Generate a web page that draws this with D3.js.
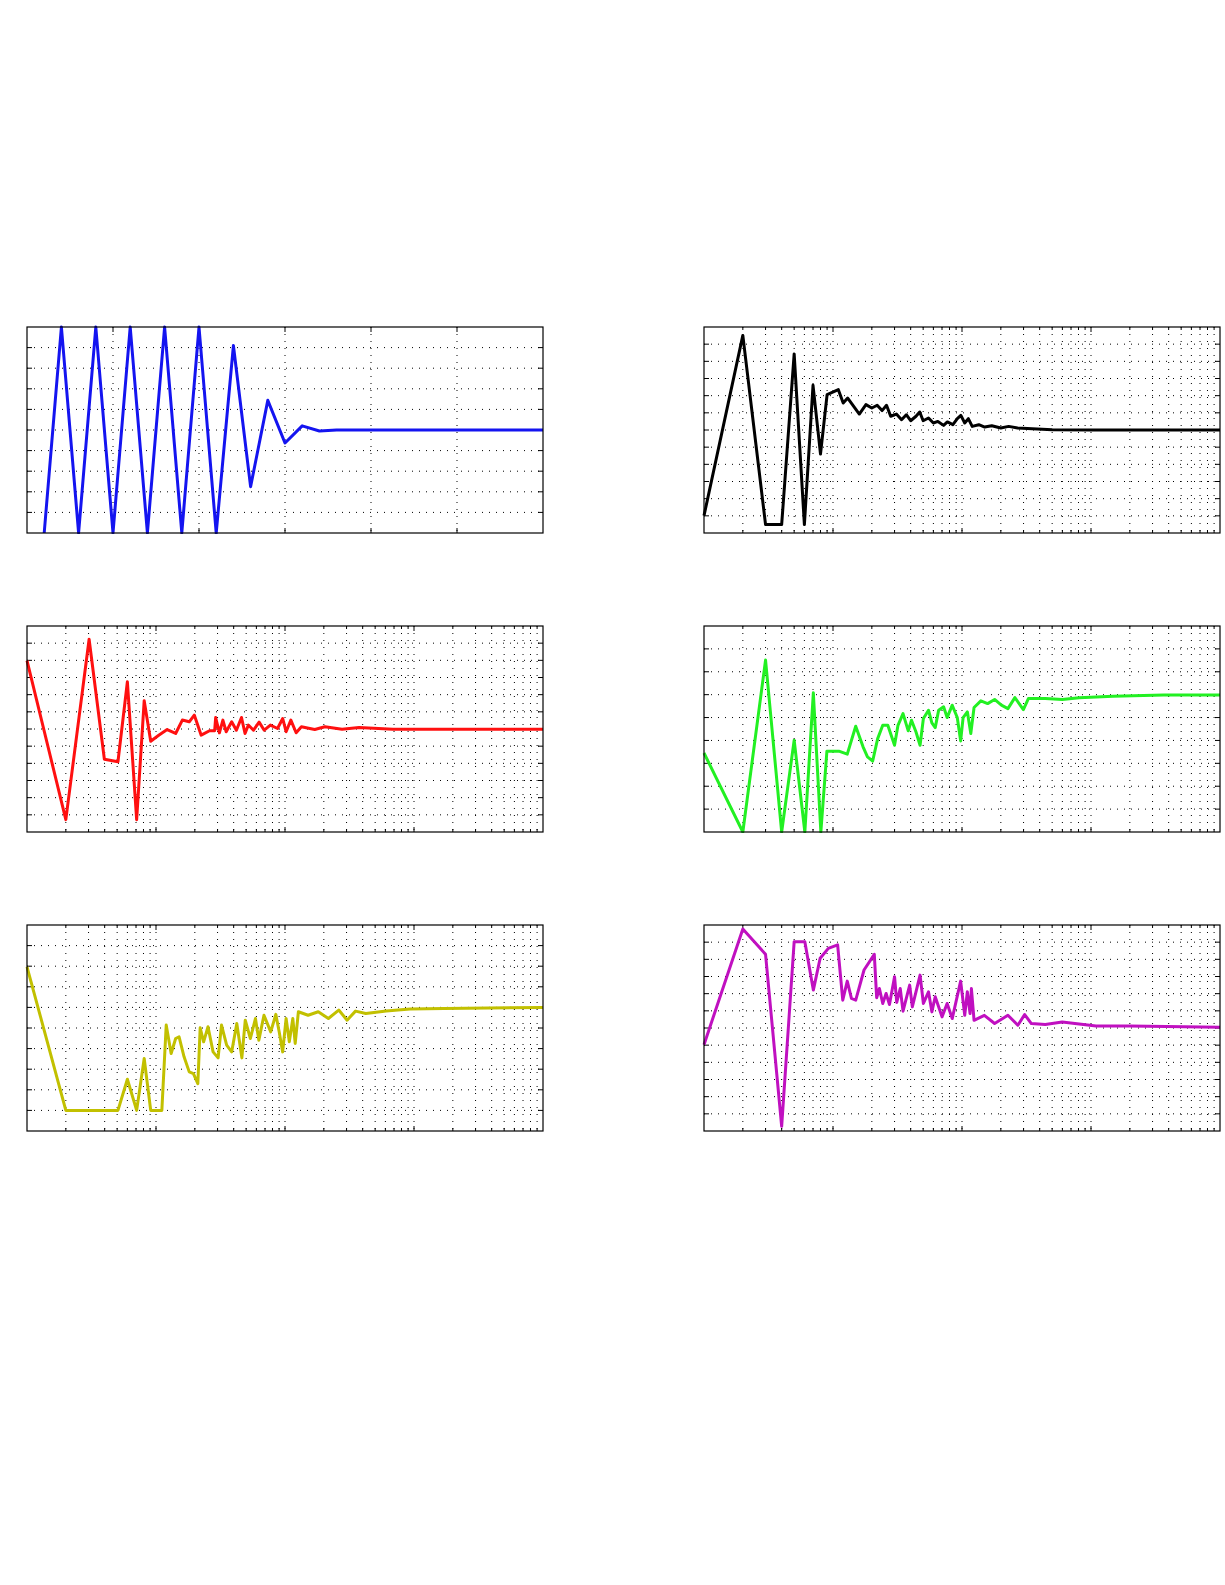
<!DOCTYPE html>
<html><head><meta charset="utf-8">
<script src="https://cdn.jsdelivr.net/npm/d3@7"></script>
<style>body{margin:0;background:#fff}</style></head>
<body><svg id="c" width="1225" height="1585"></svg>
<script>
// ---- data ----
const blueX = d3.range(1, 31);
const blueY = [0,10,0,10,0,10,0,10,0,10,0,9.1,2.25,6.44,4.37,5.2,4.95,5,5,5,5,5,5,5,5,5,5,5,5,5];

const blackX = [1,2,3,4,5,6,7,8,9,11,12,13,16,18,20,22,24,26,28,31,34,37,40,44,47,50,55,60,65,72,77,85,92,98,105,112,120,135,150,170,200,230,270,350,500,1000,10000];
const blackY = [1.01,11.51,0.49,0.49,10.43,0.49,8.6,4.6,8.06,8.35,7.57,7.86,6.93,7.48,7.28,7.44,7.13,7.44,6.8,6.93,6.6,6.89,6.54,6.8,7.05,6.54,6.7,6.41,6.5,6.27,6.47,6.31,6.66,6.85,6.41,6.66,6.21,6.31,6.17,6.25,6.12,6.21,6.12,6.08,6.02,6.0,6.0];

const redX = [1,2,3.03,3.98,5.07,6,7.08,8.1,9.1,10.5,12.2,14.2,16,18.1,19.8,22.4,26,28.5,29,31,33,35,38.6,42,46,49,52,57,63,69,77,87.5,96,102,111,122,134,170,204,277,375,687,10000];
const redY = [9.98,0.72,11.23,4.24,4.09,8.75,0.72,7.65,5.29,5.64,5.97,5.74,6.52,6.42,6.81,5.64,5.9,5.9,6.67,5.78,6.52,5.84,6.42,5.93,6.67,5.74,6.23,5.93,6.4,5.93,6.23,6.03,6.61,5.84,6.52,5.78,6.13,5.97,6.13,5.99,6.09,5.99,5.99];

const greenX = [1,2,3,4,5,6.05,7.04,8.05,8.97,11.1,12.9,15,17.1,18.5,20.3,22.2,24.3,26.6,30,31.9,34.9,38.3,40.6,44,47.3,50.2,55,58.4,62,65.9,72,76.7,84,91.9,97.6,102,110,117,124,140,158,179,202,227,257,299,327,442,598,809,1482,3664,10000];
const greenY = [3.45,0,7.51,0,4.01,0,6.08,0,3.53,3.53,3.40,4.62,3.72,3.28,3.10,4.08,4.66,4.66,3.79,4.66,5.17,4.42,4.88,4.37,3.79,4.96,5.32,4.77,4.56,5.32,5.47,5.0,5.54,5.0,3.98,5.0,5.25,4.30,5.44,5.73,5.61,5.79,5.54,5.39,5.87,5.35,5.83,5.83,5.79,5.87,5.93,5.98,5.98];

const yellowX = [1,2,5.07,6,7.08,8.1,9.1,11.1,12,13.1,14.2,15.1,16.5,18.1,19.5,21.1,22,23.4,25.3,27.7,30.3,32.2,35.3,38.6,42.3,46.3,49.2,53.9,59,62.7,68.7,77.5,84.9,90.2,95.9,102,108,115,120,127,151,181,217,261,303,352,423,609,930,1705,10000];
const yellowY = [7.97,1.0,1.0,2.51,1.0,3.52,1.0,1.0,5.14,3.76,4.49,4.57,3.6,2.87,2.79,2.3,5.01,4.33,5.06,3.84,3.55,5.14,4.17,3.84,5.22,3.55,5.38,4.49,5.46,4.41,5.62,4.81,5.66,4.81,3.84,5.46,4.33,5.46,4.25,5.79,5.62,5.79,5.46,5.87,5.38,5.82,5.7,5.82,5.92,5.95,6.0];

const magentaX = [1,2,3,4,5,6.05,7.04,7.95,9.2,10.86,11.9,12.9,13.9,15,17.4,20.9,21.8,22.9,24.3,25.8,27.4,30,31.2,33.2,34.9,39.3,41.2,47.3,50.2,55,58.4,62,70,76.7,84,97.6,105,110,115.5,118.3,124,149,179,227,271,306,345,442,598,1095,2002,10000];
const magentaY = [5.03,11.77,10.29,0.27,11.03,11.03,8.21,10.06,10.64,10.84,7.62,8.73,7.72,7.62,9.38,10.29,7.76,8.3,7.43,8.01,7.37,8.99,7.49,8.3,6.98,8.5,7.23,9.08,7.43,8.11,6.94,7.82,6.65,7.43,6.55,8.73,6.74,8.11,6.84,8.3,6.45,6.74,6.26,6.74,6.16,6.78,6.26,6.2,6.35,6.12,6.12,6.04];

// ---- layout ----
const W = 516, H = 206;
const panels = [
  {x:27, y:327, log:false, xs:blueX, ys:blueY, yDiv:10, color:"#1414f0"},
  {x:704, y:327, log:true, xs:blackX, ys:blackY, yDiv:12, color:"#000000"},
  {x:27, y:626, log:true, xs:redX, ys:redY, yDiv:12, color:"#ff1010"},
  {x:704, y:626, log:true, xs:greenX, ys:greenY, yDiv:9, color:"#22f022"},
  {x:27, y:925, log:true, xs:yellowX, ys:yellowY, yDiv:10, color:"#c2c000"},
  {x:704, y:925, log:true, xs:magentaX, ys:magentaY, yDiv:12, color:"#c010c0"}
];
const svg = d3.select("#c");
panels.forEach((p, i) => {
  const g = svg.append("g").attr("transform", `translate(${p.x},${p.y})`);
  const x = p.log ? d3.scaleLog().domain([1, 10000]).range([0, W]) : d3.scaleLinear().domain([0, 30]).range([0, W]);
  const y = d3.scaleLinear().domain([0, p.yDiv]).range([H, 0]);
  const yT = d3.range(1, p.yDiv);
  let xMaj, xMin = [];
  if (p.log) {
    xMaj = [10, 100, 1000];
    [1,10,100,1000].forEach(d => { for (let k = 2; k <= 9; k++) xMin.push(d*k); });
  } else xMaj = [5,10,15,20,25];
  const gridX = xMaj.concat(xMin);
  const dash = "1,6";
  g.selectAll(".gx").data(gridX).enter().append("line")
    .attr("x1", d => x(d)).attr("x2", d => x(d)).attr("y1", 0).attr("y2", H)
    .attr("stroke", "#000").attr("stroke-width", 1).attr("stroke-dasharray", dash);
  g.selectAll(".gy").data(yT).enter().append("line")
    .attr("x1", 0).attr("x2", W).attr("y1", d => y(d)).attr("y2", d => y(d))
    .attr("stroke", "#000").attr("stroke-width", 1).attr("stroke-dasharray", dash);
  const tk = [];
  xMaj.forEach(d => { tk.push([x(d),0,x(d),5]); tk.push([x(d),H,x(d),H-5]); });
  xMin.forEach(d => { tk.push([x(d),0,x(d),3]); tk.push([x(d),H,x(d),H-3]); });
  yT.forEach(d => { tk.push([0,y(d),5,y(d)]); tk.push([W,y(d),W-5,y(d)]); });
  g.selectAll(".tk").data(tk).enter().append("line")
    .attr("x1", d => d[0]).attr("y1", d => d[1]).attr("x2", d => d[2]).attr("y2", d => d[3])
    .attr("stroke", "#000").attr("stroke-width", 1);
  const cid = "clip" + i;
  g.append("clipPath").attr("id", cid).append("rect").attr("x", -2).attr("y", -2).attr("width", W + 2).attr("height", H + 3);
  const pts = p.xs.map((d, j) => [d, p.ys[j]]);
  g.append("path").datum(pts).attr("clip-path", `url(#${cid})`)
    .attr("d", d3.line().x(d => x(d[0])).y(d => y(d[1])))
    .attr("fill", "none").attr("stroke", p.color).attr("stroke-width", 3).attr("stroke-linejoin", "round");
  g.append("rect").attr("width", W).attr("height", H).attr("fill", "none").attr("stroke", "#000").attr("stroke-width", 1.2);
});
</script></body></html>
